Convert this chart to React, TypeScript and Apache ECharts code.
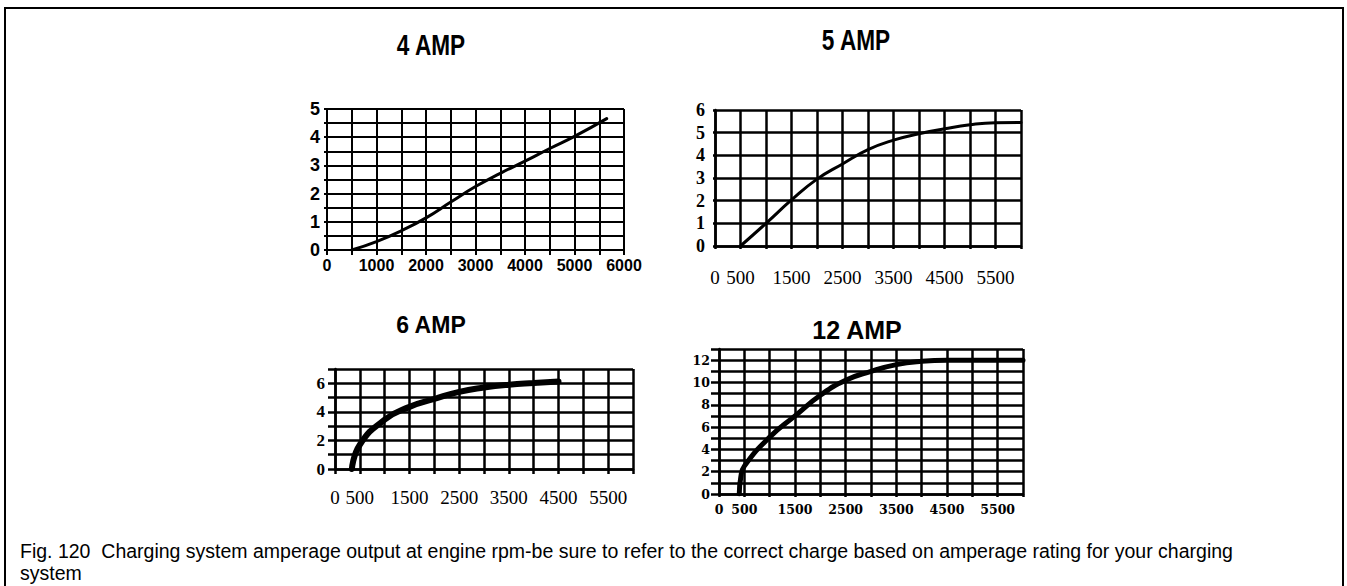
import React, { useEffect, useRef } from "react";
import * as echarts from "echarts";

// ---- data (rpm, amps) ----
const amp4Curve: [number, number][] = [
  [500, 0], [1000, 0.3], [1500, 0.68], [2000, 1.14], [2500, 1.7], [3000, 2.25],
  [3500, 2.72], [4000, 3.15], [4500, 3.6], [5000, 4.03], [5650, 4.66],
];
const amp5Curve: [number, number][] = [
  [500, 0], [1000, 1.0], [1500, 2.03], [2000, 2.95], [2500, 3.62], [3000, 4.25],
  [3500, 4.67], [4000, 4.95], [4500, 5.17], [5000, 5.35], [5500, 5.44], [6000, 5.45],
];
const amp6Curve: [number, number][] = [
  [340, 0], [500, 1.7], [1000, 3.45], [1500, 4.35], [2000, 4.9], [2500, 5.4],
  [3000, 5.7], [3500, 5.9], [4000, 6.02], [4500, 6.12],
];
const amp12Curve: [number, number][] = [
  [400, 0], [430, 1.5], [500, 2.5], [1000, 5.1], [1500, 7.0], [2000, 8.85],
  [2500, 10.2], [3000, 11.0], [3500, 11.6], [4000, 11.9], [4500, 12.0],
  [5000, 12.0], [5500, 12.0], [6000, 12.0],
];

const titles = ["4 AMP", "5 AMP", "6 AMP", "12 AMP"];
const captionLines = [
  "Fig. 120  Charging system amperage output at engine rpm-be sure to refer to the correct charge based on amperage rating for your charging",
  "system",
];
const rpmMax = 6000;
const rpmStep = 500;
const ampMax = [5, 6, 7, 13];
const ampStep = [0.5, 1, 1, 1];

const SANS = "'Liberation Sans', Arial, sans-serif";
const SERIF = "'Liberation Serif', 'DejaVu Serif', serif";
const WIDE_SERIF = "'DejaVu Serif', serif";

export default function App() {
  const ref = useRef<HTMLDivElement>(null);
  useEffect(() => {
    if (!ref.current) return;
    const chart = echarts.init(ref.current, undefined, { renderer: "svg" });

    const grids = [
      { left: 327, top: 109, width: 297, height: 141 },
      { left: 715, top: 110, width: 306, height: 136 },
      { left: 335, top: 369, width: 298, height: 100 },
      { left: 719, top: 349, width: 304, height: 145 },
    ];
    const gridW = [2, 2.5, 2.5, 2.5];

    const xLabelFmt = [
      (v: number) => (v % 1000 === 0 ? String(v) : ""),
      (v: number) => (v === 0 || v % 1000 === 500 ? String(v) : ""),
      (v: number) => (v === 0 || v % 1000 === 500 ? String(v) : ""),
      (v: number) => (v === 0 || v % 1000 === 500 ? String(v) : ""),
    ];
    const yLabelFmt = [
      (v: number) => (Number.isInteger(v) ? String(v) : ""),
      (v: number) => String(v),
      (v: number) => (v % 2 === 0 && v <= 6 ? String(v) : ""),
      (v: number) => (v % 2 === 0 && v <= 12 ? String(v) : ""),
    ];
    const xLabelStyle = [
      { fontFamily: SANS, fontWeight: "bold", fontSize: 16, margin: 7 },
      { fontFamily: SERIF, fontWeight: "normal", fontSize: 19, margin: 22 },
      { fontFamily: SERIF, fontWeight: "normal", fontSize: 19, margin: 19 },
      { fontFamily: WIDE_SERIF, fontWeight: "bold", fontSize: 12.5, margin: 9 },
    ];
    const yLabelStyle = [
      { fontFamily: SANS, fontWeight: "bold", fontSize: 18, margin: 7 },
      { fontFamily: SERIF, fontWeight: "bold", fontSize: 18, margin: 10 },
      { fontFamily: SERIF, fontWeight: "bold", fontSize: 17, margin: 10 },
      { fontFamily: WIDE_SERIF, fontWeight: "bold", fontSize: 12.5, margin: 9 },
    ];
    const yTickLen = [3, 2, 7, 8];
    const xTickLen = [5, 3, 5, 3];
    const curves = [amp4Curve, amp5Curve, amp6Curve, amp12Curve];
    const curveW = [3, 3, 6, 5];

    const xAxis = grids.map((_, i) => ({
      type: "value",
      gridIndex: i,
      min: 0,
      max: rpmMax,
      interval: rpmStep,
      axisLine: { show: true, onZero: false, lineStyle: { color: "#000", width: gridW[i] } },
      axisTick: { show: true, inside: false, length: xTickLen[i], lineStyle: { color: "#000", width: gridW[i] } },
      splitLine: { show: true, lineStyle: { color: "#000", width: gridW[i] } },
      axisLabel: {
        show: true,
        color: "#000",
        formatter: xLabelFmt[i],
        showMinLabel: true,
        showMaxLabel: true,
        hideOverlap: false,
        ...xLabelStyle[i],
      },
    }));
    const yAxis = grids.map((_, i) => ({
      type: "value",
      gridIndex: i,
      min: 0,
      max: ampMax[i],
      interval: ampStep[i],
      axisLine: { show: true, lineStyle: { color: "#000", width: gridW[i] } },
      axisTick: { show: true, length: yTickLen[i], lineStyle: { color: "#000", width: gridW[i] } },
      splitLine: { show: true, lineStyle: { color: "#000", width: gridW[i] } },
      axisLabel: {
        show: true,
        color: "#000",
        formatter: yLabelFmt[i],
        showMinLabel: true,
        showMaxLabel: true,
        ...yLabelStyle[i],
      },
    }));
    const series = curves.map((d, i) => ({
      type: "line",
      xAxisIndex: i,
      yAxisIndex: i,
      data: d,
      showSymbol: false,
      smooth: 0.5,
      lineStyle: { color: "#000", width: curveW[i], cap: "round", join: "round" },
      itemStyle: { color: "#000" },
      z: 5,
    }));

    const titlePos = [
      { x: 431, y: 45, size: 29, sx: 0.78 },
      { x: 856, y: 40, size: 29, sx: 0.78 },
      { x: 431, y: 325, size: 23, sx: 1 },
      { x: 857, y: 330, size: 25, sx: 1 },
    ];

    const graphic: any[] = [
      {
        type: "rect",
        shape: { x: 5, y: 8, width: 1338, height: 600 },
        style: { fill: "none", stroke: "#000", lineWidth: 2 },
        silent: true,
      },
      ...titles.map((t, i) => ({
        type: "text",
        x: titlePos[i].x,
        y: titlePos[i].y,
        scaleX: titlePos[i].sx,
        style: {
          text: t,
          fill: "#000",
          font: `bold ${titlePos[i].size}px ${SANS}`,
          textAlign: "center",
          textVerticalAlign: "middle",
        },
      })),
      ...captionLines.map((t, i) => ({
        type: "text",
        x: 20,
        y: 551 + i * 22,
        style: {
          text: t,
          fill: "#000",
          font: `19.5px ${SANS}`,
          textAlign: "left",
          textVerticalAlign: "middle",
        },
      })),
    ];

    chart.setOption({
      animation: false,
      backgroundColor: "#fff",
      grid: grids.map((g) => ({ ...g, containLabel: false })),
      xAxis,
      yAxis,
      series,
      graphic,
    } as any);

    return () => chart.dispose();
  }, []);

  return (
    <div
      ref={ref}
      style={{ position: "absolute", left: 0, top: 0, width: 1347, height: 586 }}
    />
  );
}
